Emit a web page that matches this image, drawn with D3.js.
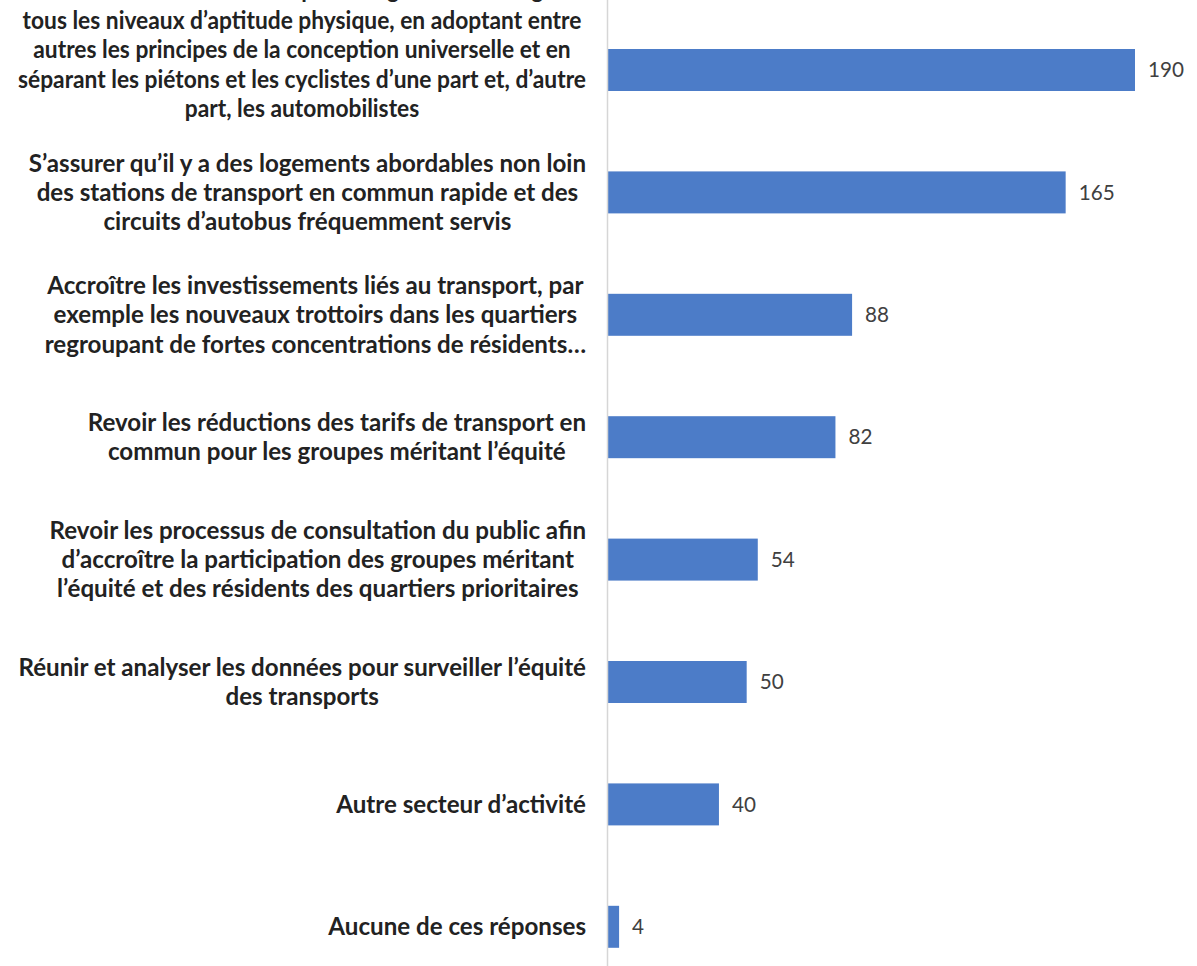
<!DOCTYPE html>
<html>
<head>
<meta charset="utf-8">
<script src="https://cdn.jsdelivr.net/npm/d3@7"></script>
<style>
  html, body { margin: 0; padding: 0; background: #ffffff; }
  svg { display: block; }
</style>
</head>
<body>
<svg id="chart" width="1197" height="966"></svg>
<script>
// ---- data ----
const labelLines = [
  ["Concevoir des rues sécuritaires pour les gens de tous âges et de",
   "tous les niveaux d’aptitude physique, en adoptant entre",
   "autres les principes de la conception universelle et en",
   "séparant les piétons et les cyclistes d’une part et, d’autre",
   "part, les automobilistes"],
  ["S’assurer qu’il y a des logements abordables non loin",
   "des stations de transport en commun rapide et des",
   "circuits d’autobus fréquemment servis"],
  ["Accroître les investissements liés au transport, par",
   "exemple les nouveaux trottoirs dans les quartiers",
   "regroupant de fortes concentrations de résidents…"],
  ["Revoir les réductions des tarifs de transport en",
   "commun pour les groupes méritant l’équité"],
  ["Revoir les processus de consultation du public afin",
   "d’accroître la participation des groupes méritant",
   "l’équité et des résidents des quartiers prioritaires"],
  ["Réunir et analyser les données pour surveiller l’équité",
   "des transports"],
  ["Autre secteur d’activité"],
  ["Aucune de ces réponses"]
];
const categories = labelLines.map(l => l.join(" "));
const values = [190, 165, 88, 82, 54, 50, 40, 4];

// ---- layout ----
const W = 1197, H = 966;
const axisX = 608;
const svg = d3.select("#chart");

const x = d3.scaleLinear().domain([0, 190]).range([axisX, 1135]);
const y = d3.scaleBand().domain(categories)
  .range([8.8, 8.8 + 122.4 * categories.length])
  .paddingInner(0.657).paddingOuter(0.657 / 2);

const labelFont = "Lato, 'Open Sans', 'DejaVu Sans', sans-serif";

// fit font sizes by measurement
function measure(str, weight) {
  const t = svg.append("text").attr("font-family", labelFont)
    .attr("font-weight", weight).attr("font-size", 100).text(str);
  const w = t.node().getComputedTextLength();
  t.remove();
  return w;
}
const labelSize = 100 * 568 / measure("Réunir et analyser les données pour surveiller l’équité", 700);
const valueSize = 100 * 36 / measure("190", 400);

// bars
svg.append("g").selectAll("rect").data(values).join("rect")
  .attr("x", x(0))
  .attr("y", (d, i) => y(categories[i]))
  .attr("width", d => x(d) - x(0))
  .attr("height", y.bandwidth())
  .attr("fill", "#4c7cc8");

// axis line (vertical category axis)
svg.append("line")
  .attr("x1", axisX - 0.5).attr("x2", axisX - 0.5)
  .attr("y1", 0).attr("y2", H)
  .attr("stroke", "#d6d6d6").attr("stroke-width", 1.5);

// value labels
svg.append("g").selectAll("text").data(values).join("text")
  .attr("x", d => x(d) + 13)
  .attr("y", (d, i) => y(categories[i]) + y.bandwidth() / 2)
  .attr("dy", "0.35em")
  .attr("font-family", labelFont)
  .attr("font-size", valueSize)
  .attr("fill", "#404040")
  .text(d => d);

// category labels (multi-line, centred lines, block right-aligned)
const lineH = 29.3;
const rightEdge = 586;
const maxBlock = 568;
const lg = svg.append("g");
labelLines.forEach((lines, i) => {
  const cy = y(categories[i]) + y.bandwidth() / 2 - (i === 0 ? 20 : 0);
  const g = lg.append("g");
  const texts = lines.map((ln, j) => g.append("text")
    .attr("font-family", labelFont)
    .attr("font-weight", 700)
    .attr("font-size", labelSize)
    .attr("fill", "#222222")
    .attr("text-anchor", "middle")
    .attr("y", cy + (j - (lines.length - 1) / 2) * lineH - (i === 0 && j === 0 ? 2 : 0))
    .attr("dy", "0.35em")
    .text(ln));
  let maxW = d3.max(texts.slice(i === 0 ? 1 : 0), t => t.node().getComputedTextLength());
  if (maxW > maxBlock) {
    const k = maxBlock / maxW;
    texts.forEach(t => t.attr("textLength", t.node().getComputedTextLength() * k)
      .attr("lengthAdjust", "spacingAndGlyphs"));
    maxW = maxBlock;
  }
  texts.forEach(t => t.attr("x", rightEdge - maxW / 2));
});
</script>
</body>
</html>
